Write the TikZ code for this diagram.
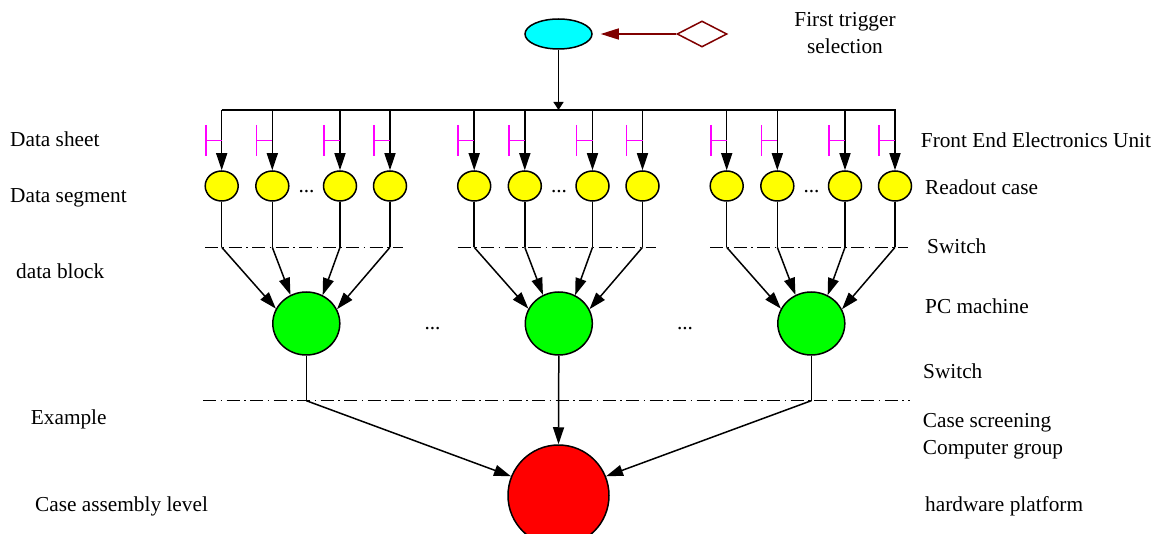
\documentclass[tikz,border=0pt]{standalone}
\usepackage{fontspec}
\setmainfont{Liberation Serif}
\usetikzlibrary{arrows.meta,shapes.geometric}
\definecolor{darkred}{RGB}{128,0,0}
\definecolor{magentaline}{RGB}{255,0,255}
\definecolor{trigcyan}{RGB}{0,255,255}
\definecolor{segyellow}{RGB}{255,255,0}
\definecolor{pcgreen}{RGB}{0,255,0}
\definecolor{hwred}{RGB}{255,0,0}
\begin{document}
\begin{tikzpicture}[x=1pt,y=-1pt,
  conn/.style={line width=1.5pt, black},
  arr/.style={conn, -{Triangle[length=17pt,width=11pt]}},
  dashdot/.style={line width=1.3pt, dash pattern=on 13pt off 4.5pt on 1.5pt off 4.5pt},
  lbl/.style={anchor=base west, inner sep=0pt, font=\fontsize{21.3}{25}\selectfont},
  dotsl/.style={anchor=base, inner sep=0pt, font=\fontsize{21.3}{25}\selectfont},
  ell/.style={ellipse, draw, line width=1.5pt, inner sep=0pt},
  trig/.style={ell, fill=trigcyan, minimum width=67pt, minimum height=30pt},
  yel/.style={ell, fill=segyellow, minimum width=33pt, minimum height=30pt},
  pc/.style={ell, fill=pcgreen, minimum width=67pt, minimum height=63pt},
  hw/.style={ell, fill=hwred, minimum width=101pt, minimum height=101pt},
  fee/.style={line width=1.6pt, magentaline}
]
\useasboundingbox (0,0) rectangle (1156,534);

% trigger
\node[trig] (trig) at (558.5,34) {};
\node[diamond, draw=darkred, line width=1.5pt, inner sep=0pt, aspect=1.9,
      minimum width=50pt, minimum height=26pt] (dia) at (702,34) {};
\draw[line width=1.5pt, darkred, -{Triangle[length=18pt,width=11pt]}, shorten >=8pt] (dia.west) -- (trig.east);
\coordinate (busmid) at (558.5,110);
\draw[conn, -{Triangle[length=8pt,width=10pt]}] (trig.south) -- (busmid);

% bus
\coordinate (busL) at (221.7,110);
\coordinate (busR) at (895.7,110);
\draw[conn] (busL) -- (busR);

% red circle
\node[hw] (hw) at (558.5,495.5) {};

\foreach \g/\gi in {0/1,252.5/2,505/3}{
  \node[pc] (pc\gi) at (306.3+\g,323.5) {};
  \coordinate (dl\gi) at (205+\g,247.3);
  \coordinate (dr\gi) at (403+\g,247.3);
  \draw[dashdot] (dl\gi) -- (dr\gi);
  \node[dotsl] (dots\gi) at (306.5+\g,192.5) {...};
  \foreach \c/\ci/\ang in {221.7/1/154,272.3/2/119,340/3/60,390/4/25}{
    \coordinate (b\gi\ci) at (\c+\g,110);
    \node[yel] (y\gi\ci) at (\c+\g,186) {};
    \draw[arr] (b\gi\ci) -- (y\gi\ci.north);
    \draw[fee] (\c+\g-16,125) -- (\c+\g-16,156);
    \draw[fee] (\c+\g-16,140.7) -- (\c+\g,140.7);
    \coordinate (d\gi\ci) at (\c+\g,247.3);
    \draw[conn] (y\gi\ci.south) -- (d\gi\ci);
    \draw[arr] (d\gi\ci) -- (pc\gi.\ang);
  }
}
\node[dotsl] (mdots1) at (432.5,329.5) {...};
\node[dotsl] (mdots2) at (685,329.5) {...};

% second switch line
\coordinate (sl) at (203,400.7);
\coordinate (sr) at (910,400.7);
\draw[dashdot] (sl) -- (sr);
\coordinate (k1) at (306.3,400.7);
\coordinate (k3) at (811.3,400.7);
\draw[conn] (pc1.south) -- (k1);
\draw[conn] (pc3.south) -- (k3);
\draw[arr] (k1) -- (hw.158);
\draw[arr] (k3) -- (hw.22);
\draw[arr] (pc2.south) -- (hw.north);

% labels
\node[lbl] (l1) at (10,147) {Data sheet};
\node[lbl] (l2) at (10,203) {Data segment};
\node[lbl] (l3) at (16,279) {data block};
\node[lbl] (l4) at (30.7,424) {Example};
\node[lbl] (l5) at (35,511.7) {Case assembly level};
\node[dotsl] (r0a) at (845,26.7) {First trigger};
\node[dotsl] (r0b) at (845,53.3) {selection};
\node[lbl] (r1) at (920.7,148) {Front End Electronics Unit};
\node[lbl] (r2) at (925,195) {Readout case};
\node[lbl] (r3) at (927,254) {Switch};
\node[lbl] (r4) at (925,314) {PC machine};
\node[lbl] (r5) at (923,378) {Switch};
\node[lbl] (r6) at (922.7,427.5) {Case screening};
\node[lbl] (r7) at (922.7,454) {Computer group};
\node[lbl] (r8) at (925,511) {hardware platform};
\end{tikzpicture}
\end{document}
